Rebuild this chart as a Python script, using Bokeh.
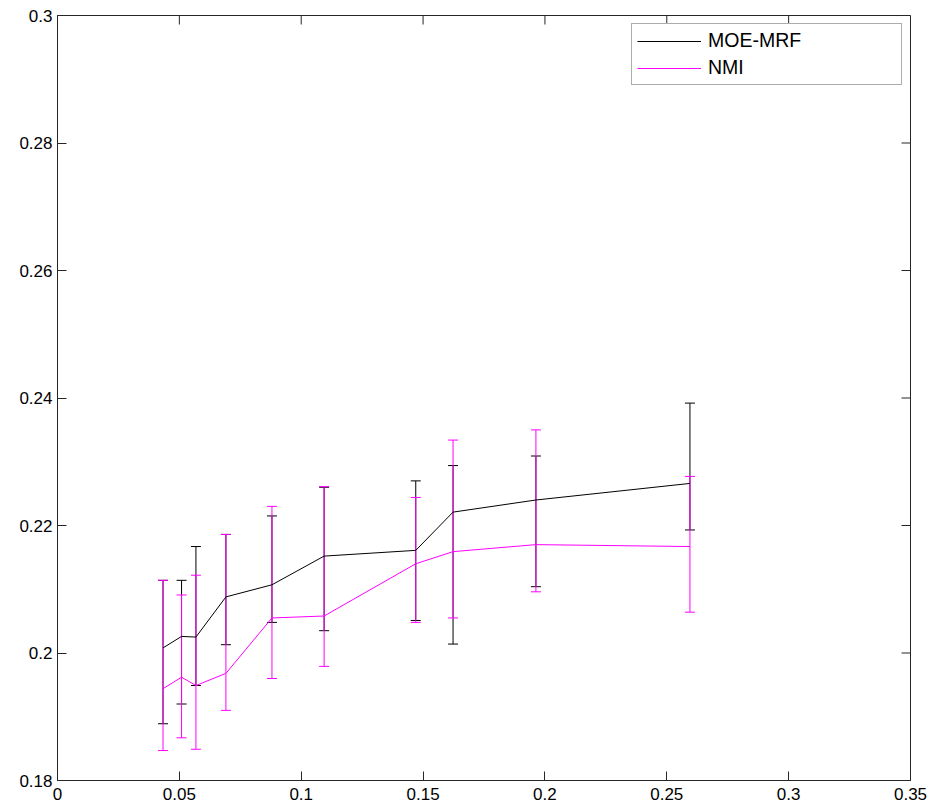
import math
from bokeh.plotting import figure
from bokeh.models import (Range1d, FixedTicker, LinearAxis, Whisker, TeeHead,
                          ColumnDataSource, Legend, LegendItem)
from bokeh.embed import file_html
from bokeh.resources import INLINE

# ---- data ----
x_vals = [0.0433, 0.0509, 0.0568, 0.0691, 0.0880, 0.1094, 0.1470, 0.1623, 0.1963, 0.2595]

moe_mean = [0.2008, 0.2026, 0.2025, 0.2088, 0.2107, 0.2152, 0.2161, 0.2221, 0.2240, 0.2266]
moe_upper = [0.2114, 0.2114, 0.2167, 0.2186, 0.2215, 0.2260, 0.2270, 0.2294, 0.2309, 0.2392]
moe_lower = [0.1889, 0.1920, 0.1949, 0.2013, 0.2048, 0.2035, 0.2051, 0.2014, 0.2104, 0.2193]

nmi_mean = [0.1944, 0.1962, 0.1949, 0.1968, 0.2055, 0.2058, 0.2140, 0.2159, 0.2170, 0.2167]
nmi_upper = [0.2114, 0.2091, 0.2122, 0.2186, 0.2230, 0.2261, 0.2244, 0.2334, 0.2350, 0.2277]
nmi_lower = [0.1847, 0.1867, 0.1849, 0.1910, 0.1960, 0.1979, 0.2048, 0.2055, 0.2096, 0.2064]

series_names = ["MOE-MRF", "NMI"]
series_colors = ["#000000", "#FF00FF"]

x_min, x_max = 0.0, 0.35
y_min, y_max = 0.18, 0.3
x_ticks = [0, 0.05, 0.1, 0.15, 0.2, 0.25, 0.3, 0.35]
x_tick_labels = ["0", "0.05", "0.1", "0.15", "0.2", "0.25", "0.3", "0.35"]
y_ticks = [0.18, 0.2, 0.22, 0.24, 0.26, 0.28, 0.3]
y_tick_labels = ["0.18", "0.2", "0.22", "0.24", "0.26", "0.28", "0.3"]

FONT = "Liberation Sans"
AXIS_COLOR = "#262626"
TICK_LEN = 9

p = figure(width=935, height=808, output_backend="svg", toolbar_location=None,
           x_range=Range1d(x_min, x_max), y_range=Range1d(y_min, y_max),
           x_axis_location=None, y_axis_location=None,
           min_border_left=57, min_border_right=25, min_border_top=15, min_border_bottom=28)
p.grid.visible = False
p.outline_line_color = AXIS_COLOR
p.outline_line_width = 1
p.background_fill_color = "white"
p.border_fill_color = "white"


def make_axis(ticks, labels, standoff):
    ax = LinearAxis(ticker=FixedTicker(ticks=ticks),
                    major_label_overrides={t: l for t, l in zip(ticks, labels)})
    ax.major_tick_in = TICK_LEN
    ax.major_tick_out = 0
    ax.minor_tick_line_color = None
    ax.axis_line_color = AXIS_COLOR
    ax.major_tick_line_color = AXIS_COLOR
    ax.major_label_text_font = FONT
    ax.major_label_text_font_size = "17px"
    ax.major_label_text_color = "#000000"
    ax.major_label_standoff = standoff
    return ax


p.add_layout(make_axis(x_ticks, x_tick_labels, 7), "below")
p.add_layout(make_axis(y_ticks, y_tick_labels, 5), "left")

# inward ticks on top and right edges (box style)
p.ray(x=x_ticks, y=[y_max] * len(x_ticks), length=TICK_LEN, length_units="screen",
      angle=-math.pi / 2, line_color=AXIS_COLOR, line_width=1)
p.ray(x=[x_max] * len(y_ticks), y=y_ticks, length=TICK_LEN, length_units="screen",
      angle=math.pi, line_color=AXIS_COLOR, line_width=1)

renderers = []
for name, color, mean, up, lo in [
    (series_names[0], series_colors[0], moe_mean, moe_upper, moe_lower),
    (series_names[1], series_colors[1], nmi_mean, nmi_upper, nmi_lower),
]:
    src = ColumnDataSource(dict(x=x_vals, mean=mean, upper=up, lower=lo))
    w = Whisker(source=src, base="x", upper="upper", lower="lower",
                line_color=color, line_width=1,
                upper_head=TeeHead(size=10, line_color=color, line_width=1),
                lower_head=TeeHead(size=10, line_color=color, line_width=1))
    p.add_layout(w)
    r = p.line("x", "mean", source=src, line_color=color, line_width=1)
    renderers.append(r)

legend = Legend(items=[LegendItem(label=n, renderers=[r]) for n, r in zip(series_names, renderers)],
                location="top_right", margin=8, padding=5, spacing=4,
                glyph_width=64, glyph_height=20, label_height=20,
                label_standoff=7, label_width=188,
                label_text_font=FONT, label_text_font_size="19.5px",
                label_text_color="#000000",
                border_line_color="#5a5a5a", border_line_width=1,
                background_fill_color="white", background_fill_alpha=1.0)
p.add_layout(legend)

open("out.html", "w").write(file_html(p, INLINE))
